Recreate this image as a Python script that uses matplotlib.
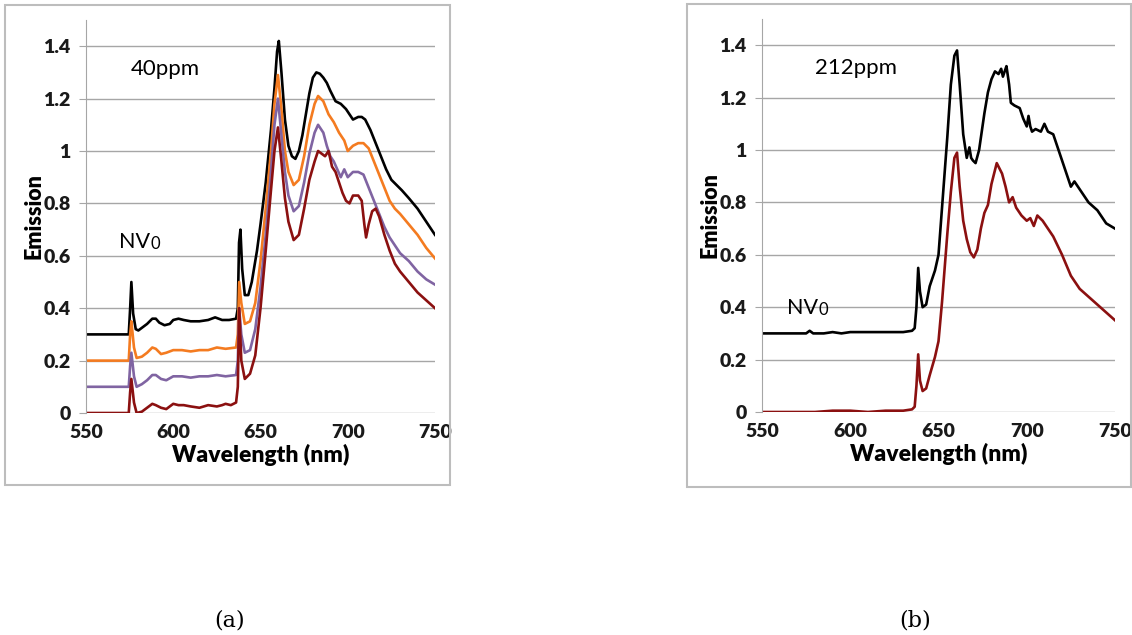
import numpy as np
import matplotlib.pyplot as plt
from matplotlib.patches import Rectangle

# ---- panel (a): 40ppm, four spectra ----
wl_a_black = [550, 574.5, 575.3, 576, 577, 578.5, 580, 582, 585, 588, 590, 592, 595, 598, 600, 603, 606, 610,
              615, 620, 624, 626, 628, 632, 636, 637, 637.7, 638.5, 639.5, 641, 643, 645, 648, 650, 653, 656,
              658, 659.5, 660.5, 662, 664, 666, 668, 670, 672, 674, 676, 678, 680, 682, 684, 686, 688, 690,
              693, 696, 699, 701, 703, 706, 708, 710, 713, 716, 719, 722, 725, 728, 731, 735, 740, 745, 750]
em_a_black = [0.30, 0.30, 0.40, 0.50, 0.38, 0.32, 0.315, 0.325, 0.34, 0.36, 0.36, 0.345, 0.335, 0.34, 0.355,
              0.36, 0.355, 0.35, 0.35, 0.355, 0.365, 0.36, 0.355, 0.355, 0.36, 0.40, 0.65, 0.70, 0.55, 0.45,
              0.45, 0.50, 0.62, 0.72, 0.88, 1.08, 1.24, 1.38, 1.42, 1.30, 1.12, 1.02, 0.98, 0.97, 1.00, 1.06,
              1.14, 1.22, 1.28, 1.30, 1.295, 1.28, 1.26, 1.23, 1.19, 1.18, 1.16, 1.14, 1.12, 1.13, 1.13, 1.12,
              1.08, 1.03, 0.98, 0.93, 0.89, 0.87, 0.85, 0.82, 0.78, 0.73, 0.68]

wl_a_orange = [550, 574.5, 575.3, 576, 577.5, 579, 582, 585, 588, 590, 593, 596, 600, 605, 610, 615, 620, 625,
               630, 636, 637, 637.8, 639, 641, 644, 647, 650, 653, 656, 658, 660, 662, 664, 666, 669, 672, 675,
               678, 681, 683, 686, 689, 692, 695, 698, 700, 703, 706, 709, 712, 715, 718, 721, 724, 727, 730,
               735, 740, 745, 750]
em_a_orange = [0.20, 0.20, 0.30, 0.35, 0.25, 0.21, 0.215, 0.23, 0.25, 0.245, 0.225, 0.23, 0.24, 0.24, 0.235,
               0.24, 0.24, 0.25, 0.245, 0.25, 0.30, 0.50, 0.42, 0.34, 0.35, 0.42, 0.58, 0.78, 1.00, 1.18, 1.29,
               1.16, 1.00, 0.92, 0.87, 0.89, 0.98, 1.10, 1.18, 1.21, 1.19, 1.14, 1.11, 1.07, 1.04, 1.00, 1.02,
               1.03, 1.03, 1.01, 0.96, 0.91, 0.86, 0.81, 0.78, 0.76, 0.72, 0.68, 0.63, 0.59]

wl_a_purple = [550, 574.5, 575.3, 576, 577.5, 579, 582, 585, 588, 590, 593, 596, 600, 605, 610, 615, 620, 625,
               630, 636, 637, 637.8, 639, 641, 644, 647, 650, 653, 656, 658, 660, 662, 664, 666, 669, 672, 675,
               678, 681, 683, 686, 688, 690, 692, 694, 696, 698, 700, 703, 706, 709, 712, 715, 718, 721, 724,
               727, 730, 735, 740, 745, 750]
em_a_purple = [0.10, 0.10, 0.18, 0.23, 0.14, 0.10, 0.11, 0.125, 0.145, 0.145, 0.13, 0.125, 0.14, 0.14, 0.135,
               0.14, 0.14, 0.145, 0.14, 0.145, 0.20, 0.40, 0.30, 0.23, 0.24, 0.32, 0.48, 0.68, 0.92, 1.10, 1.20,
               1.06, 0.92, 0.83, 0.77, 0.79, 0.88, 0.99, 1.07, 1.10, 1.07, 1.02, 0.98, 0.96, 0.93, 0.90, 0.93,
               0.90, 0.92, 0.92, 0.91, 0.86, 0.81, 0.76, 0.71, 0.67, 0.64, 0.61, 0.58, 0.54, 0.51, 0.49]

wl_a_red = [550, 574.5, 575.3, 576, 577.5, 579, 582, 585, 588, 590, 593, 596, 600, 603, 606, 610, 615, 620, 625,
            628, 630, 633, 636, 637, 637.8, 639, 641, 644, 647, 650, 653, 656, 658, 660, 662, 664, 666, 669,
            672, 675, 678, 681, 683, 685, 687, 689, 691, 693, 695, 697, 699, 701, 703, 706, 708, 709.5, 710.5,
            712, 714, 716, 718, 721, 724, 727, 730, 735, 740, 745, 750]
em_a_red = [0.00, 0.00, 0.08, 0.13, 0.04, 0.00, 0.005, 0.02, 0.035, 0.03, 0.02, 0.015, 0.035, 0.03, 0.03, 0.025,
            0.02, 0.03, 0.025, 0.03, 0.035, 0.03, 0.04, 0.10, 0.40, 0.20, 0.13, 0.15, 0.22, 0.40, 0.62, 0.85, 1.00,
            1.09, 0.96, 0.82, 0.73, 0.66, 0.68, 0.78, 0.89, 0.96, 1.00, 0.99, 0.98, 1.00, 0.94, 0.92, 0.88, 0.84,
            0.81, 0.80, 0.83, 0.83, 0.81, 0.72, 0.67, 0.72, 0.77, 0.78, 0.75, 0.68, 0.62, 0.57, 0.54, 0.50, 0.46,
            0.43, 0.40]

# ---- panel (b): 212ppm, two spectra ----
wl_b_black = [550, 575, 577, 579, 585, 590, 595, 600, 610, 620, 630, 635, 636.5, 637.5, 638.5, 639.5, 641, 643,
              645, 648, 650, 652, 655, 657, 659, 660.5, 662, 664, 666, 667.5, 668.5, 669.5, 671, 673, 676, 678,
              680, 682, 684, 685.5, 686.5, 687.5, 688.5, 690, 691, 693, 696, 698, 700, 701, 702, 703, 705, 708,
              710, 712, 715, 718, 720, 722, 725, 727, 730, 735, 740, 745, 750]
em_b_black = [0.30, 0.30, 0.31, 0.30, 0.30, 0.305, 0.30, 0.305, 0.305, 0.305, 0.305, 0.31, 0.32, 0.40, 0.55, 0.46,
              0.40, 0.41, 0.48, 0.54, 0.60, 0.78, 1.05, 1.25, 1.36, 1.38, 1.25, 1.06, 0.97, 1.01, 0.97, 0.96, 0.95,
              1.00, 1.14, 1.22, 1.27, 1.30, 1.29, 1.31, 1.28, 1.30, 1.32, 1.25, 1.18, 1.17, 1.16, 1.12, 1.09, 1.13,
              1.09, 1.07, 1.08, 1.07, 1.10, 1.07, 1.06, 1.00, 0.96, 0.92, 0.86, 0.88, 0.85, 0.80, 0.77, 0.72, 0.70]

wl_b_red = [550, 580, 590, 600, 610, 620, 630, 635, 636.5, 637.5, 638.5, 639.5, 641, 643, 645, 648, 650, 652, 655,
            657, 659, 660.5, 662, 664, 666, 668, 670, 672, 674, 676, 678, 680, 683, 686, 688, 690, 692, 694, 697,
            700, 702, 704, 706, 709, 712, 715, 720, 725, 730, 735, 740, 745, 750]
em_b_red = [0.00, 0.00, 0.005, 0.005, 0.00, 0.005, 0.005, 0.01, 0.02, 0.10, 0.22, 0.12, 0.08, 0.09, 0.14, 0.21,
            0.27, 0.42, 0.68, 0.84, 0.97, 0.99, 0.86, 0.73, 0.66, 0.61, 0.59, 0.62, 0.70, 0.76, 0.79, 0.87, 0.95,
            0.91, 0.86, 0.80, 0.82, 0.78, 0.75, 0.73, 0.74, 0.71, 0.75, 0.73, 0.70, 0.67, 0.60, 0.52, 0.47, 0.44,
            0.41, 0.38, 0.35]

yticks = [0, 0.2, 0.4, 0.6, 0.8, 1.0, 1.2, 1.4]
ytick_labels = ['0', '0.2', '0.4', '0.6', '0.8', '1', '1.2', '1.4']
xticks = [550, 600, 650, 700, 750]

grid_col = '#a6a6a6'
plt.rcParams['font.family'] = ['Lato', 'DejaVu Sans']

fig = plt.figure(figsize=(11.32, 6.35), dpi=100)

# gray frames around each panel
fig.patches.append(Rectangle((5 / 1132, 1 - 485 / 635), 445 / 1132, 480 / 635, transform=fig.transFigure,
                             fill=False, edgecolor='#bdbdbd', linewidth=1.5))
fig.patches.append(Rectangle((687 / 1132, 1 - 487 / 635), 444 / 1132, 483 / 635, transform=fig.transFigure,
                             fill=False, edgecolor='#bdbdbd', linewidth=1.5))

ax_a = fig.add_axes([86 / 1132, 1 - 413 / 635, 349 / 1132, 393 / 635])
ax_b = fig.add_axes([762 / 1132, 1 - 412 / 635, 353 / 1132, 393 / 635])

ax_a.plot(wl_a_black, em_a_black, color='black', lw=1.9)
ax_a.plot(wl_a_orange, em_a_orange, color='#f47b20', lw=1.9)
ax_a.plot(wl_a_purple, em_a_purple, color='#8064a2', lw=1.9)
ax_a.plot(wl_a_red, em_a_red, color='#8b1010', lw=1.9)

ax_b.plot(wl_b_black, em_b_black, color='black', lw=1.9)
ax_b.plot(wl_b_red, em_b_red, color='#8b1010', lw=1.9)

for ax in (ax_a, ax_b):
    ax.set_xlim(550, 750)
    ax.set_ylim(0, 1.5)
    ax.set_yticks(yticks)
    ax.set_yticklabels(ytick_labels, fontweight='heavy', fontsize=14, color='#1a1a1a')
    ax.set_xticks(xticks)
    ax.set_xticklabels([str(v) for v in xticks], fontweight='heavy', fontsize=14, color='#1a1a1a')
    ax.grid(axis='y', color=grid_col, lw=1)
    ax.set_axisbelow(True)
    for s in ('top', 'right', 'bottom'):
        ax.spines[s].set_visible(False)
    ax.spines['left'].set_color(grid_col)
    ax.tick_params(axis='y', direction='out', length=5, color=grid_col, pad=6)
    ax.tick_params(axis='x', length=0, pad=8)
    ax.set_xlabel('Wavelength (nm)', fontweight='heavy', fontsize=16.5, labelpad=2)
    ax.set_ylabel('Emission', fontweight='heavy', fontsize=15.5, labelpad=-1)
    ax.patch.set_alpha(0)


def nv_label(ax, x, y):
    t = ax.text(x, y, 'NV', fontsize=15.5)
    ax.annotate('0', xy=(1, 0), xycoords=t, xytext=(0.5, 0), textcoords='offset points',
                fontsize=12, ha='left', va='bottom')


ax_a.text(575.5, 1.29, '40ppm', fontsize=16)
nv_label(ax_a, 569, 0.63)

ax_b.text(580, 1.29, '212ppm', fontsize=16)
nv_label(ax_b, 564, 0.375)

fig.text(230 / 1132, 1 - 620 / 635, '(a)', fontfamily='DejaVu Serif', fontsize=16, ha='center', va='center')
fig.text(915 / 1132, 1 - 620 / 635, '(b)', fontfamily='DejaVu Serif', fontsize=16, ha='center', va='center')

fig.savefig('out.png', dpi=100)
